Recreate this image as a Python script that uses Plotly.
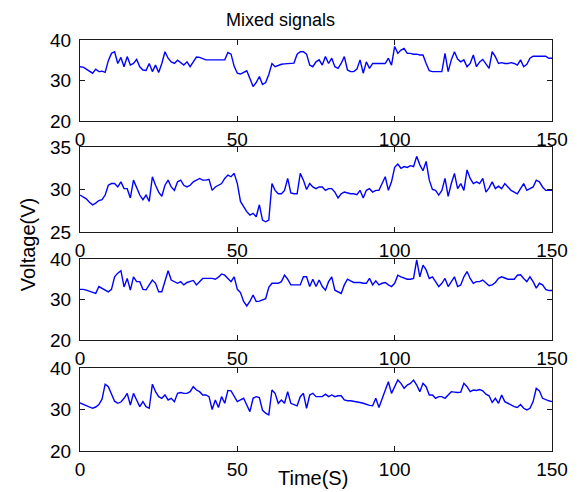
import plotly.graph_objects as go

# Four mixed signals sampled once per second (t = 0..150)
s1 = [33.4, 33.3, 32.8, 32.2, 31.8, 32.8, 32.2, 32.3, 32.0, 34.9,
      36.7, 37.1, 34.2, 35.7, 33.4, 35.9, 33.8, 34.2, 35.2, 33.4,
      32.6, 32.5, 34.2, 32.2, 33.8, 32.0, 34.2, 37.1, 35.5, 34.6,
      34.2, 35.0, 34.4, 33.8, 34.6, 33.4, 34.6, 35.8, 35.7, 35.4,
      35.1, 35.1, 35.1, 35.1, 35.1, 35.1, 35.1, 36.9, 36.5, 33.5,
      31.8, 31.6, 32.0, 32.4, 30.5, 28.5, 29.5, 31.0, 29.0, 29.5,
      31.5, 34.2, 33.4, 33.8, 34.0, 34.1, 34.2, 34.2, 34.3, 36.5,
      37.1, 37.1, 36.5, 33.8, 33.4, 34.6, 35.1, 33.8, 35.9, 34.2,
      35.5, 33.4, 33.0, 34.2, 35.9, 32.6, 32.2, 32.2, 32.8, 35.1,
      31.8, 34.6, 33.0, 34.2, 34.2, 34.2, 34.2, 34.2, 35.5, 33.8,
      38.4, 36.7, 37.5, 37.9, 36.7, 36.7, 36.5, 36.5, 36.3, 36.3,
      34.2, 32.4, 32.2, 32.2, 32.2, 32.2, 36.7, 32.2, 35.1, 37.1,
      35.3, 34.6, 35.1, 33.4, 34.2, 36.3, 33.4, 34.6, 35.2, 34.0,
      33.0, 37.1, 35.9, 34.2, 34.4, 34.2, 34.2, 34.4, 34.2, 33.8,
      35.1, 33.4, 34.0, 35.5, 36.0, 36.0, 36.0, 36.0, 36.0, 35.5, 35.5]

s2 = [29.35, 29.1, 28.9, 28.5, 28.2, 28.4, 28.7, 28.8, 29.35, 30.5,
      30.7, 30.7, 30.3, 30.9, 30.1, 30.1, 29.0, 31.1, 30.3, 29.35,
      28.8, 29.35, 28.6, 31.5, 30.5, 29.7, 29.2, 30.5, 31.1, 30.3,
      29.9, 30.9, 31.1, 30.5, 30.3, 30.5, 30.9, 31.1, 31.3, 31.1,
      31.1, 31.2, 29.9, 30.3, 30.5, 30.7, 31.3, 31.7, 31.5, 31.9,
      30.7, 28.6, 28.0, 27.4, 27.0, 27.2, 26.8, 28.2, 26.4, 26.2,
      26.4, 30.7, 29.9, 29.5, 29.5, 29.9, 31.3, 29.6, 29.5, 29.5,
      31.9, 31.1, 30.0, 30.7, 30.3, 30.1, 30.3, 30.3, 29.9, 30.1,
      30.1, 29.7, 29.0, 29.5, 29.7, 29.6, 29.5, 29.5, 29.4, 29.9,
      29.0, 29.9, 30.1, 29.7, 29.9, 29.9, 30.7, 31.5, 29.9, 30.9,
      32.6, 33.0, 32.5, 32.7, 32.6, 32.8, 32.7, 33.9, 32.9, 32.2,
      33.3, 31.1, 30.0, 29.9, 29.35, 29.9, 31.3, 29.2, 30.7, 31.9,
      30.1, 30.7, 29.9, 32.3, 31.3, 30.7, 30.9, 30.7, 31.3, 29.7,
      30.2, 30.9, 30.1, 30.4, 30.1, 30.7, 30.3, 29.9, 29.7, 29.5,
      30.1, 30.7, 29.9, 30.1, 30.3, 31.1, 30.9, 30.3, 29.9, 29.9, 29.9]

s3 = [32.5, 32.5, 32.3, 32.0, 31.7, 31.5, 33.2, 32.8, 32.3, 31.9,
      32.5, 35.6, 36.5, 37.1, 33.1, 35.2, 32.3, 35.6, 34.4, 34.4,
      32.5, 32.4, 33.6, 34.8, 34.0, 31.9, 31.9, 34.4, 37.1, 34.8,
      34.4, 34.0, 34.4, 33.6, 34.2, 34.4, 34.7, 33.6, 34.4, 35.2,
      35.2, 35.2, 35.2, 35.0, 35.5, 36.3, 36.0, 35.2, 34.4, 35.6,
      32.5, 31.7, 29.5, 28.4, 29.5, 31.1, 29.5, 29.6, 29.9, 30.2,
      33.0, 34.0, 34.0, 34.0, 34.4, 36.0, 35.0, 33.6, 33.6, 33.6,
      33.6, 35.6, 35.6, 33.2, 35.0, 33.2, 34.8, 33.2, 32.3, 34.4,
      35.6, 32.3, 31.9, 31.5, 33.6, 35.0, 34.6, 34.2, 34.2, 34.2,
      34.0, 34.0, 35.2, 33.6, 34.6, 33.6, 34.0, 34.2, 33.6, 33.2,
      34.0, 36.0, 35.6, 35.2, 35.0, 35.0, 35.2, 39.8, 35.6, 38.5,
      37.3, 35.2, 35.6, 34.4, 33.2, 34.0, 35.2, 33.2, 34.4, 35.6,
      33.2, 33.6, 35.6, 36.9, 35.2, 34.0, 34.4, 34.4, 34.8, 34.0,
      33.4, 33.6, 34.2, 35.2, 35.6, 35.3, 35.0, 35.0, 35.0, 36.0,
      36.1, 35.2, 34.4, 35.6, 34.4, 32.8, 34.0, 33.6, 32.5, 32.2, 32.2]

s4 = [31.6, 31.3, 30.9, 30.6, 30.3, 30.6, 31.2, 32.5, 36.1, 35.5,
      33.9, 32.0, 31.5, 31.8, 32.7, 33.9, 31.1, 33.9, 32.3, 30.7,
      31.9, 30.7, 30.3, 36.1, 34.3, 33.1, 32.7, 33.5, 32.3, 32.7,
      31.9, 33.9, 34.1, 33.9, 33.9, 34.3, 35.5, 34.7, 34.3, 33.5,
      33.5, 33.1, 30.0, 32.3, 30.5, 33.1, 31.5, 34.6, 34.5, 33.1,
      31.9, 32.3, 32.7, 31.1, 29.5, 32.7, 33.1, 32.9, 29.8, 29.1,
      28.7, 34.7, 33.9, 31.5, 32.3, 31.5, 34.3, 31.5, 31.1, 30.9,
      33.1, 33.9, 30.3, 33.5, 33.9, 33.1, 33.1, 33.1, 33.7, 33.1,
      33.5, 33.1, 33.3, 33.3, 32.3, 32.1, 32.1, 32.0, 31.9, 31.7,
      31.5, 31.2, 31.0, 30.9, 32.7, 30.5, 32.7, 34.7, 36.7, 33.9,
      35.5, 37.1, 36.3, 35.1, 35.9, 36.3, 37.1, 35.9, 34.3, 36.3,
      35.5, 33.5, 33.5, 32.7, 33.1, 33.1, 32.7, 33.5, 34.3, 34.2,
      34.1, 34.2, 36.3, 35.5, 34.3, 34.7, 34.6, 34.8, 34.5, 33.7,
      33.3, 31.7, 32.7, 31.5, 33.5, 31.9, 31.5, 31.0, 30.7, 30.5,
      31.2, 30.3, 29.9, 30.3, 31.9, 35.1, 34.5, 32.7, 32.3, 32.1, 31.9]

signals = [s1, s2, s3, s4]
y_ranges = [[20, 40], [25, 35], [20, 40], [20, 40]]
y_ticks = [[20, 30, 40], [25, 30, 35], [20, 30, 40], [20, 30, 40]]
x_ticks = [0, 50, 100, 150]
title_text = "Mixed signals"
x_title = "Time(S)"
y_title = "Voltage(V)"

# panel domains (paper coords)
domains = [[0.8029, 1.0], [0.5328, 0.7397], [0.2701, 0.4672], [0.0, 0.2019]]

FONT = "Liberation Sans, Arial, sans-serif"
fig = go.Figure()
# the page body adds an 8px offset, so the margins compensate for it
layout = dict(
    width=581, height=492,
    margin=dict(l=72, r=37, t=32, b=49, autoexpand=False),
    paper_bgcolor="white", plot_bgcolor="white",
    showlegend=False,
    font=dict(family=FONT, size=18, color="black"),
)
for i, s in enumerate(signals):
    n = i + 1
    xa = "x" if n == 1 else f"x{n}"
    ya = "y" if n == 1 else f"y{n}"
    fig.add_trace(go.Scatter(x=list(range(len(s))), y=s, mode="lines",
                             line=dict(color="#0000ff", width=1.4),
                             xaxis=xa, yaxis=ya, hoverinfo="skip"))
    axcommon = dict(showline=True, mirror="ticks", linecolor="#1a1a1a", linewidth=1,
                    ticks="inside", ticklen=5, tickcolor="#1a1a1a", tickwidth=1,
                    showgrid=False, zeroline=False, automargin=False,
                    tickfont=dict(family=FONT, size=19, color="black"))
    layout["xaxis" if n == 1 else f"xaxis{n}"] = dict(
        axcommon, domain=[0, 1], range=[0, 150], tickvals=x_ticks,
        anchor=ya, ticklabelstandoff=1)
    layout["yaxis" if n == 1 else f"yaxis{n}"] = dict(
        axcommon, domain=domains[i], range=y_ranges[i], tickvals=y_ticks[i],
        anchor=xa, ticklabelstandoff=4)

layout["annotations"] = [
    dict(text=title_text, x=0.424, y=1.048, xref="paper", yref="paper",
         showarrow=False, xanchor="center", yanchor="middle",
         font=dict(family=FONT, size=18, color="black")),
    dict(text=x_title, x=0.494, y=-0.066, xref="paper", yref="paper",
         showarrow=False, xanchor="center", yanchor="middle",
         font=dict(family=FONT, size=20, color="black")),
    dict(text=y_title, x=-0.110, y=0.501, xref="paper", yref="paper",
         showarrow=False, xanchor="center", yanchor="middle", textangle=-90,
         font=dict(family=FONT, size=20, color="black")),
]
fig.update_layout(**layout)
fig.write_html("out.html")
